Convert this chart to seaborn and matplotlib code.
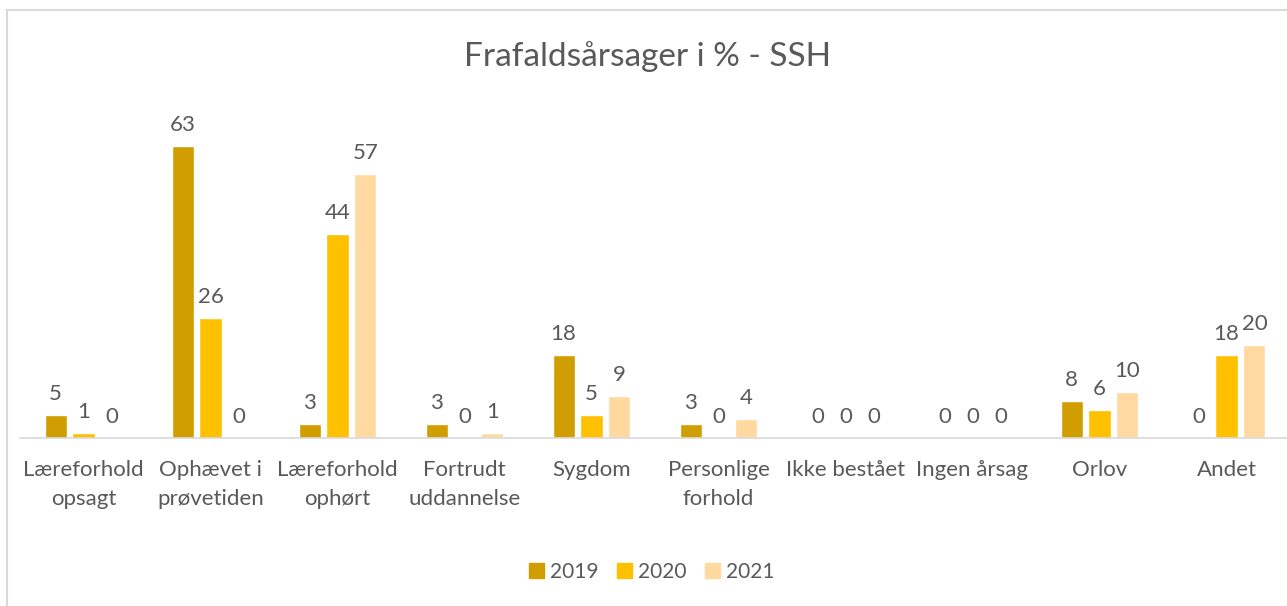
import pandas as pd
import numpy as np
import matplotlib.pyplot as plt
import seaborn as sns
from matplotlib.patches import Rectangle

# data
categories = ["Læreforhold\nopsagt", "Ophævet i\nprøvetiden", "Læreforhold\nophørt",
              "Fortrudt\nuddannelse", "Sygdom", "Personlige\nforhold",
              "Ikke bestået", "Ingen årsag", "Orlov", "Andet"]
years = ["2019", "2020", "2021"]
v2019 = [5, 63, 3, 3, 18, 3, 0, 0, 8, 0]
v2020 = [1, 26, 44, 0, 5, 0, 0, 0, 6, 18]
v2021 = [0, 0, 57, 1, 9, 4, 0, 0, 10, 20]
colors = ["#D09E00", "#FFC000", "#FFD9A0"]

df = pd.DataFrame({
    "kategori": categories * 3,
    "aar": np.repeat(years, len(categories)),
    "pct": v2019 + v2020 + v2021,
})

sns.set_style("white")
plt.rcParams["font.family"] = ["Lato", "DejaVu Sans"]
txt = "#595959"

fig = plt.figure(figsize=(12.87, 6.06), dpi=100)
W, H = 1287, 606
# axes: baseline at y=438px, x from 20 to 1290px
ax = fig.add_axes([20 / W, 1 - 438 / H, 1270 / W, 338 / H])

sns.barplot(data=df, x="kategori", y="pct", hue="aar", hue_order=years,
            order=categories, palette=colors, width=0.66, gap=0.21,
            errorbar=None, legend=False, ax=ax, saturation=1)

ax.set_ylim(0, 73)
ax.set_xlim(-0.5, len(categories) - 0.5)
for c in ax.containers:
    ax.bar_label(c, fmt="%d", padding=8, fontsize=16, color=txt)

ax.set_xlabel("")
ax.set_ylabel("")
ax.set_yticks([])
ax.tick_params(axis="x", length=0, pad=16, labelsize=16, labelcolor=txt)
for lbl in ax.get_xticklabels():
    lbl.set_linespacing(1.55)
    lbl.set_verticalalignment("top")
for s in ["top", "left", "right"]:
    ax.spines[s].set_visible(False)
ax.spines["bottom"].set_color("#D9D9D9")
ax.spines["bottom"].set_linewidth(1.2)

fig.text(647 / W, 1 - 57 / H, "Frafaldsårsager i % - SSH", ha="center", va="center",
         fontsize=24, color=txt)

handles = [Rectangle((0, 0), 1, 1, color=col) for col in colors]
fig.legend(handles, years, loc="center", bbox_to_anchor=(652 / W, 1 - 572 / H),
           ncol=3, frameon=False, fontsize=15, labelcolor=txt,
           handlelength=0.7, handleheight=0.7, handletextpad=0.3, columnspacing=0.9)

fig.patches.append(Rectangle((7 / W, -0.1), 1.2, 1 - 10 / H + 0.1, transform=fig.transFigure,
                             fill=False, edgecolor="#D9D9D9", linewidth=1.5))

fig.savefig("out.png", dpi=100)
